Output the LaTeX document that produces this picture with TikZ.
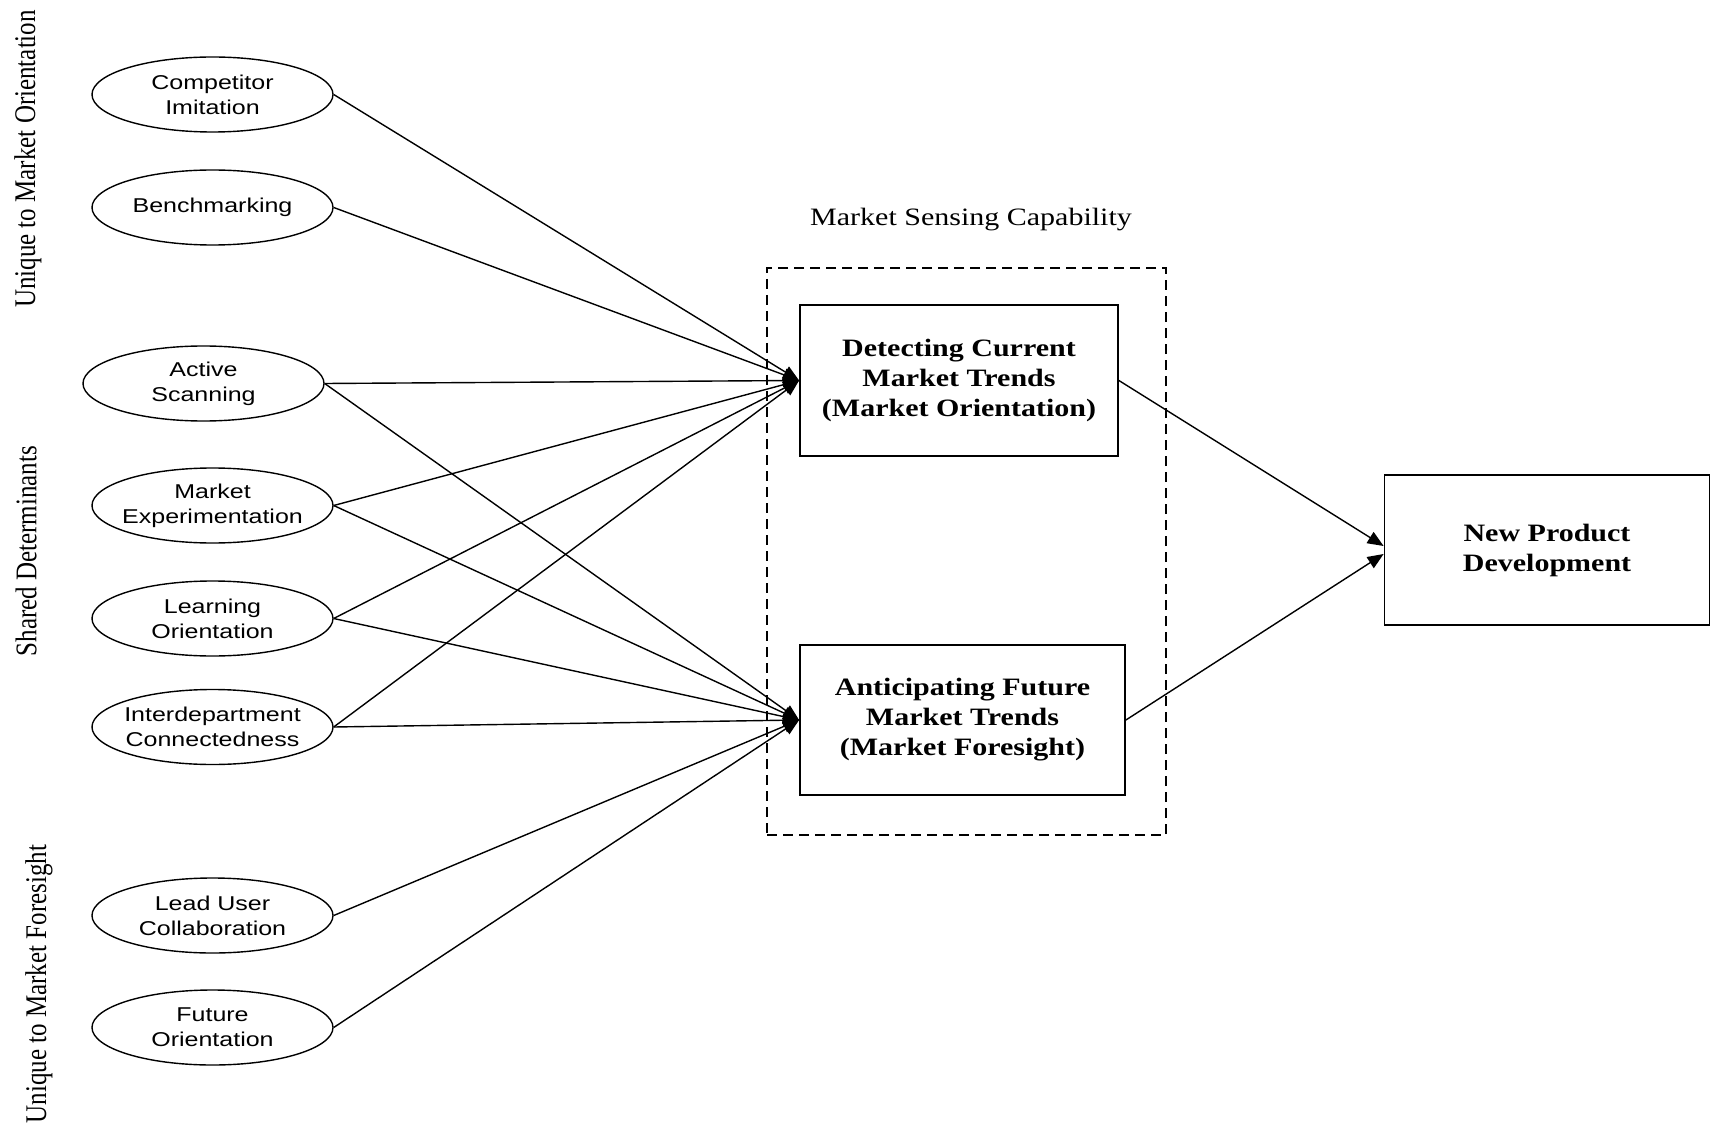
\documentclass[tikz,border=0pt]{standalone}
\usepackage{graphicx}
\usepackage{fontspec}
\setmainfont{Liberation Serif}
\newfontfamily\boxfont{Liberation Serif}[FakeStretch=1.2]
\newfontfamily\ovalfont{Liberation Sans}[FakeStretch=1.25]
\usetikzlibrary{shapes.geometric,arrows.meta}

\begin{document}
\begin{tikzpicture}[x=0.5pt,y=-0.5pt,
  oval/.style={ellipse,draw,line width=0.7pt,inner sep=0pt,
    minimum width=120.5pt,minimum height=37.5pt},
  ovaltext/.style={font=\ovalfont\fontsize{10}{12.5}\selectfont,
    align=center,inner sep=0pt},
  stage/.style={draw,line width=0.9pt,
    font=\boxfont\bfseries\fontsize{12.5}{15}\selectfont,
    align=center,minimum height=75pt},
  link/.style={line width=0.7pt,-{Triangle[length=8pt,width=6.5pt]}},
  side/.style={font=\fontsize{12.5}{15}\selectfont,inner sep=0pt},
  title/.style={font=\boxfont\fontsize{12.5}{15}\selectfont,inner sep=0pt}
]
\useasboundingbox (0,0) rectangle (1711,1128);

% group labels on the left
\node[side] (grpA) at (28,159)
  {\scalebox{1.2}[1]{\rotatebox{90}{Unique to Market Orientation}}};
\node[side] (grpB) at (26,551)
  {\scalebox{1.2}[1]{\rotatebox{90}{Shared Determinants}}};
\node[side] (grpC) at (39,984)
  {\scalebox{1.2}[1]{\rotatebox{90}{Unique to Market Foresight}}};

% determinants
\node[oval] (ci) at (212.5,94.5) {};
\node[ovaltext] (ciT) at (ci) {Competitor\\Imitation};
\node[oval] (bm) at (212.5,207.5) {};
\node[ovaltext] (bmT) at (bm) {Benchmarking};
\node[oval] (as) at (203.5,383.5) {};
\node[ovaltext] (asT) at (as) {Active\\Scanning};
\node[oval] (me) at (212.5,505.5) {};
\node[ovaltext] (meT) at (me) {Market\\Experimentation};
\node[oval] (lo) at (212.5,618.5) {};
\node[ovaltext] (loT) at (lo) {Learning\\Orientation};
\node[oval] (ic) at (212.5,727) {};
\node[ovaltext] (icT) at (ic) {Interdepartment\\Connectedness};
\node[oval] (lu) at (212.5,915.5) {};
\node[ovaltext] (luT) at (lu) {Lead User\\Collaboration};
\node[oval] (fo) at (212.5,1027.5) {};
\node[ovaltext] (foT) at (fo) {Future\\Orientation};

% market sensing capability
\node[draw,line width=0.7pt,dash pattern=on 5pt off 3pt,
  minimum width=199.5pt,minimum height=283.5pt] (msc) at (966.5,551.5) {};
\node[title] (mscT) at (971,220) {Market Sensing Capability};
\node[stage,minimum width=159pt,minimum height=75.5pt] (det) at (959,380.5)
  {Detecting Current\\Market Trends\\(Market Orientation)};
\node[stage,minimum width=162.5pt] (ant) at (962.5,720)
  {Anticipating Future\\Market Trends\\(Market Foresight)};

% outcome
\node[stage,minimum width=162.5pt] (npd) at (1547,550)
  {New Product\\Development};

% paths into detecting current trends
\draw[link] (ci.east) -- (det.west);
\draw[link] (bm.east) -- (det.west);
\draw[link] (as.east) -- (det.west);
\draw[link] (me.east) -- (det.west);
\draw[link] (lo.east) -- (det.west);
\draw[link] (ic.east) -- (det.west);

% paths into anticipating future trends
\draw[link] (as.east) -- (ant.west);
\draw[link] (me.east) -- (ant.west);
\draw[link] (lo.east) -- (ant.west);
\draw[link] (ic.east) -- (ant.west);
\draw[link] (lu.east) -- (ant.west);
\draw[link] (fo.east) -- (ant.west);

% paths into new product development
\draw[link] (det.east) -- ([yshift=2pt]npd.west);
\draw[link] (ant.east) -- ([yshift=-2pt]npd.west);
\end{tikzpicture}
\end{document}
